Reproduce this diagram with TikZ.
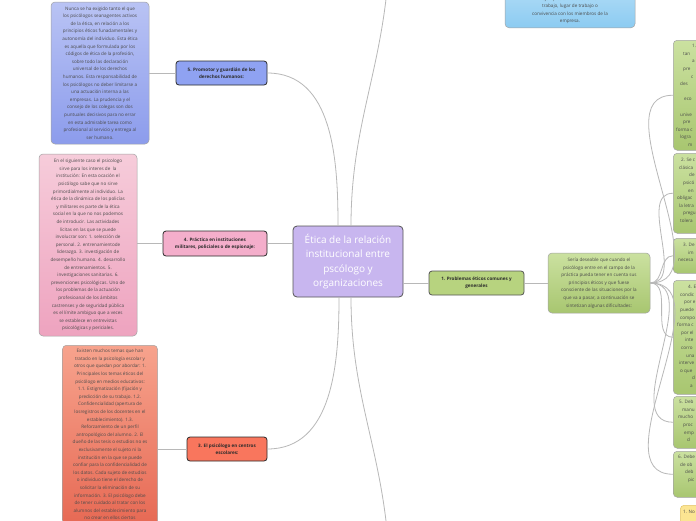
\documentclass[tikz,border=0pt]{standalone}
\usepackage{fontspec}
\setmainfont{Open Sans}
\usetikzlibrary{positioning}
\definecolor{ink}{HTML}{2B2B2B}
\definecolor{notetext}{HTML}{4A4A4A}
\definecolor{linkgray}{HTML}{B8B8B8}
\definecolor{edgegray}{HTML}{A3A3A3}
\definecolor{centrefill}{HTML}{C8B6EF}
\definecolor{centreedge}{HTML}{555555}
\definecolor{bluetop}{HTML}{B9C3F4}
\definecolor{bluebot}{HTML}{8C9CEC}
\definecolor{bluetag}{HTML}{8FA2F2}
\definecolor{pinktop}{HTML}{F6CCDA}
\definecolor{pinkbot}{HTML}{EEA3BF}
\definecolor{pinktag}{HTML}{F4AECB}
\definecolor{salmontop}{HTML}{F7A38D}
\definecolor{salmonbot}{HTML}{E4604B}
\definecolor{salmontag}{HTML}{F9765D}
\definecolor{greentop}{HTML}{CBE1A0}
\definecolor{greenbot}{HTML}{A8C670}
\definecolor{greentag}{HTML}{B7D37F}
\definecolor{skytop}{HTML}{B8E0F8}
\definecolor{skybot}{HTML}{8CCBF1}
\definecolor{yellowfill}{HTML}{FCE592}
\definecolor{yellowedge}{HTML}{E2C46A}

\begin{document}
\begin{tikzpicture}[x=1pt,y=-1pt,
  tag/.style={draw=ink,line width=0.8pt,rounded corners=3pt,text=ink,
    font=\fontsize{4.6}{6.6}\selectfont\bfseries,align=center,inner sep=0pt},
  note/.style={draw=edgegray,line width=0.5pt,rounded corners=4pt,inner sep=0pt},
  notetxt/.style={text=notetext,font=\fontsize{4.6}{7.6}\selectfont,align=center,inner sep=0pt},
  cuttxt/.style={text=notetext,font=\fontsize{4.6}{7.6}\selectfont,align=left,inner sep=0pt,anchor=north west},
  link/.style={draw=linkgray,line width=0.8pt}]

  \useasboundingbox (0,0) rectangle (696,520);
  \clip (0,0) rectangle (696,520);
  \fill[white] (0,0) rectangle (696,520);

  % centre topic
  \node[draw=centreedge,fill=centrefill,rounded corners=4pt,line width=0.8pt,
    minimum width=110pt,minimum height=71pt,text=white,
    font=\fontsize{10}{14.5}\selectfont,align=center] (cen) at (348,261.5)
    {Ética de la relación\\institucional entre\\pscólogo y\\organizaciones};
  \coordinate (upend) at (388,-20);
  \coordinate (downend) at (388,540);

  % branch 5
  \node[tag,fill=bluetag,minimum width=91pt,minimum height=24pt] (tagfive) at (221.5,73)
    {5. Promotor y guardián de los\\derechos humanos:};
  \node[note,top color=bluetop,bottom color=bluebot,minimum width=98pt,minimum height=142pt] (notefive) at (100,73) {};
  \node[notetxt] (txtfive) at (notefive.center) {Nunca se ha exigido tanto el que\\
    los psicólogos seanagentes activos\\de la ética, en relación a los\\
    principios éticos funadamentales y\\autonomía del individuo. Esta ética\\
    es aquella que formulada por los\\códigos de ética de la profesión,\\
    sobre todo las declaración\\universal de los derechos\\
    humanos. Esta responsabilidad de\\los psicólogos no deber limitarse a\\
    una actuación interna a las\\empresas. La prudencia y el\\
    consejo de los colegas son dos\\puntuales decisivos para no errar\\
    en esta admirable tarea como\\profesional al servicio y entrega al\\ser humano.};

  % branch 4
  \node[tag,fill=pinktag,minimum width=104pt,minimum height=25pt] (tagfour) at (215,243.5)
    {4. Práctica en instituciones\\militares, policiales o de espionaje:};
  \node[note,top color=pinktop,bottom color=pinkbot,minimum width=98pt,minimum height=182pt] (notefour) at (88,245) {};
  \node[notetxt] (txtfour) at (notefour.center) {En el siguiente caso el psicologo\\
    sirve para los interes de\ \ la\\institución: En esta ocación el\\
    psicólogo sabe que no sirve\\primordialmente al individuo. La\\
    ética de la dinámica de los policías\\y militares es parte de la ética\\
    social en la que no nos podemos\\de introducir. Las actividades\\
    lícitas en las que se puede\\involucrar son: 1. selección de\\
    personal. 2. entrenamientode\\liderazgo. 3. investigación de\\
    desempeño humano. 4. desarrollo\\de entrenamientos. 5.\\
    investigaciones sanitarias. 6.\\prevenciones psicológicas. Uno de\\
    los problemas de la actuación\\profesioanal de los ámbitos\\
    castrenses y de seguridad pública\\es el límite ambiguo que a veces\\
    se establece en entrevistas\\psicológicas y periciales.};

  % branch 3
  \node[tag,fill=salmontag,minimum width=80pt,minimum height=24pt] (tagthree) at (227,449)
    {3. El psicólogo en centros\\escolares:};
  \node[note,top color=salmontop,bottom color=salmonbot,minimum width=95pt,minimum height=208pt,anchor=north] (notethree) at (110,345) {};
  \node[notetxt,text=ink!85,anchor=north] (txtthree) at (110,347.2) {\strut Existen muchos temas que han\\
    tratado en la psicología escolar y\\otros que quedan por abordar: 1.\\
    Principales los temas éticos del\\psicólogo en medios educativos:\\
    1.1. Estigmatización (fijación y\\predicción de su trabajo. 1.2.\\
    Confidencialidad (apertura de\\losregistros de los docentes en el\\
    establecimiento). 1.3.\\Reforzamiento de un perfil\\
    antropológico del alumno. 2. El\\dueño de las tesis o estudios no es\\
    exclusivamente el sujeto ni la\\institución en la que se puede\\
    confiar para la confidencialidad de\\los datos. Cada sujeto de estudios\\
    o individuo tiene el derecho de\\solicitar la eliminación de su\\
    información. 3. El psicólogo debe\\de tener cuidado al tratar con los\\
    alumnos del establecimiento para\\no crear en ellos ciertos};

  % branch 1
  \node[tag,fill=greentag,draw=ink!80,minimum width=95pt,minimum height=24pt] (tagone) at (476.5,283)
    {1. Problemas éticos comunes y\\generales};
  \node[note,top color=greentop,bottom color=greenbot,minimum width=102pt,minimum height=60pt] (descone) at (599,283) {};
  \node[notetxt] (txtone) at (descone.center) {Sería deseable que cuando el\\
    psicólogo entre en el campo de la\\práctica pueda tener en cuenta sus\\
    principios éticos y que fuese\\consciente de las situaciones por la\\
    que va a pasar, a continuación se\\sintetizan algunas dificultades:};

  % cut-off boxes on the right
  \node[note,top color=greentop,bottom color=greenbot,minimum width=60pt,minimum height=110pt,anchor=north west] (rone) at (673,40) {};
  \node[note,top color=greentop,bottom color=greenbot,minimum width=60pt,minimum height=80pt,anchor=north west] (rtwo) at (673,153) {};
  \node[note,top color=greentop,bottom color=greenbot,minimum width=60pt,minimum height=35pt,anchor=north west] (rthree) at (673,238) {};
  \node[note,top color=greentop,bottom color=greenbot,minimum width=60pt,minimum height=114pt,anchor=north west] (rfour) at (673,280) {};
  \node[note,top color=greentop,bottom color=greenbot,minimum width=60pt,minimum height=52pt,anchor=north west] (rfive) at (673,396) {};
  \node[note,top color=greentop,bottom color=greenbot,minimum width=60pt,minimum height=46pt,anchor=north west] (rsix) at (673,451) {};
  \node[note,fill=yellowfill,draw=yellowedge,minimum width=60pt,minimum height=40pt,anchor=north west] (rseven) at (680,505) {};

  \node[cuttxt] (ronetxt) at (673,42.2) {\strut\hspace*{19pt}1.\\\hspace*{10pt}tan\\
    \hspace*{19pt}a\\\hspace*{10pt}pre\\\hspace*{18pt}c\\\hspace*{7pt}des\\\mbox{}\\
    \hspace*{11pt}eco\\\mbox{}\\\hspace*{7pt}unive\\\hspace*{10pt}pre\\
    \hspace*{3pt}forma c\\\hspace*{7pt}logra\\\hspace*{15pt}m};
  \node[cuttxt] (rtwotxt) at (673,156.2) {\strut\hspace*{8pt}2. Se c\\\hspace*{6pt}clásica\\
    \hspace*{16pt}de\\\hspace*{10pt}psicó\\\hspace*{15pt}en\\\hspace*{4pt}obligac\\
    \hspace*{6pt}la letra\\\hspace*{10pt}pregu\\\hspace*{7pt}tolera};
  \node[cuttxt] (rthreetxt) at (673,241.2) {\strut\hspace*{10pt}3. De\\\hspace*{15pt}im\\\hspace*{5pt}necesa};
  \node[cuttxt] (rfourtxt) at (673,283.2) {\strut\hspace*{15pt}4. E\\\hspace*{7pt}condic\\
    \hspace*{11pt}por e\\\hspace*{7pt}puede\\\hspace*{7pt}compo\\\hspace*{4pt}forma c\\
    \hspace*{8pt}por el\\\hspace*{12pt}inte\\\hspace*{8pt}corro\\\hspace*{13pt}una\\
    \hspace*{6pt}interve\\\hspace*{7pt}o que\\\hspace*{19pt}d\\\hspace*{17pt}a};
  \node[cuttxt] (rfivetxt) at (673,398.2) {\strut\hspace*{6pt}5. Deb\\\hspace*{9pt}manu\\
    \hspace*{5pt}mucho\\\hspace*{10pt}proc\\\hspace*{11pt}emp\\\hspace*{14pt}d};
  \node[cuttxt] (rsixtxt) at (673,453.2) {\strut\hspace*{5pt}6. Debe\\\hspace*{7pt}de ob\\
    \hspace*{12pt}deb\\\hspace*{15pt}pic};
  \node[cuttxt] (rseventxt) at (680,508.2) {\strut\hspace*{3pt}1. No};

  % cut-off box at the top
  \node[note,top color=skytop,bottom color=skybot,minimum width=130pt,minimum height=50pt,anchor=south] (topnote) at (570,28) {};
  \node[notetxt,anchor=south] (toptxt) at (570,24.3) {ejemplo: el maltrato en el\\
    trabajo, lugar de trabajo o\\convivencia con los miembros de la\\empresa.};

  % connectors
  \draw[link] ([xshift=-10pt]cen.north) to[out=90,in=0] (tagfive.east);
  \draw[link] ([xshift=3pt]cen.north) to[out=90,in=-95] (upend);
  \draw[link] (tagfour.east) -- (tagfour.east -| cen.west);
  \draw[link] ([xshift=-9pt]cen.south) to[out=-90,in=0] (tagthree.east);
  \draw[link] ([xshift=3pt]cen.south) to[out=-90,in=95] (downend);
  \draw[link] (tagone.west -| cen.east) -- (tagone.west);
  \draw[link] (tagone.east) -- (descone.west);
  \draw[link] (tagfive.west) -- (notefive.east);
  \draw[link] (tagfour.west) -- (tagfour.west -| notefour.east);
  \draw[link] (tagthree.west) -- (tagthree.west -| notethree.east);
  \foreach \r in {rone,rtwo,rthree,rfour,rfive,rsix}
    \draw[link] (descone.east) to[out=0,in=180] (\r.west);
\end{tikzpicture}
\end{document}
